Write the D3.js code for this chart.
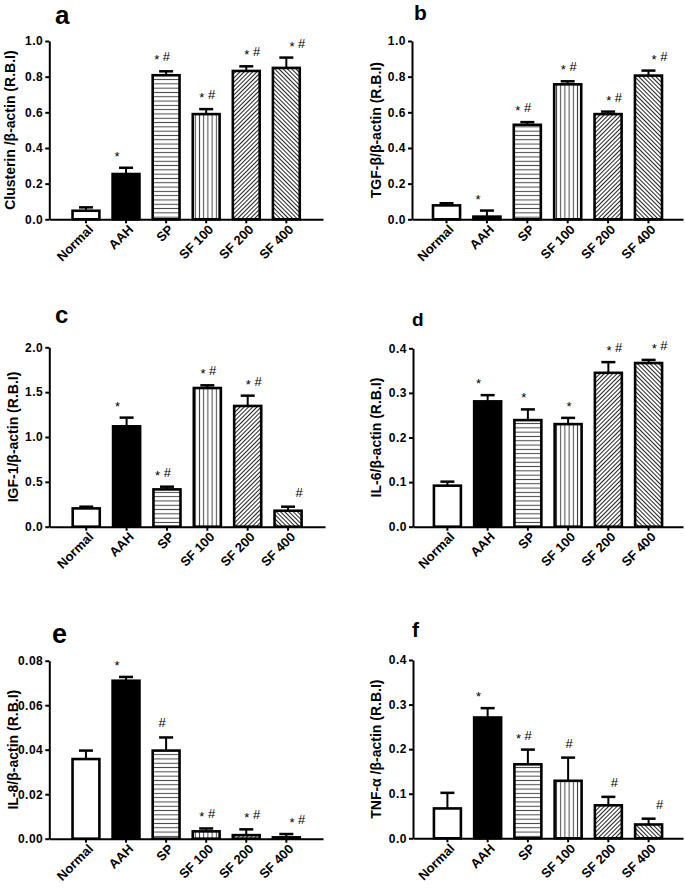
<!DOCTYPE html>
<html>
<head>
<meta charset="utf-8">
<script src="https://cdn.jsdelivr.net/npm/d3@7"></script>
<style>
body { margin: 0; background: #fff; }
text { font-family: "Liberation Sans", Arial, sans-serif; }
</style>
</head>
<body>
<div id="chart"></div>
<script>
// groups shared by every panel
const groups = ["Normal", "AAH", "SP", "SF 100", "SF 200", "SF 400"]

// a - Clusterin
const clusterinMean = [0.048, 0.254, 0.808, 0.590, 0.832, 0.849]
const clusterinErr = [0.019, 0.035, 0.022, 0.028, 0.026, 0.058]
const clusterinSig = ["", "*", "*#", "*#", "*#", "*#"]
// b - TGF-beta
const tgfMean = [0.078, 0.015, 0.530, 0.757, 0.590, 0.806]
const tgfErr = [0.012, 0.034, 0.015, 0.017, 0.014, 0.028]
const tgfSig = ["", "*", "*#", "*#", "*#", "*#"]
// c - IGF-1
const igfMean = [0.204, 1.119, 0.416, 1.546, 1.346, 0.178]
const igfErr = [0.019, 0.097, 0.030, 0.030, 0.115, 0.045]
const igfSig = ["", "*", "*#", "*#", "*#", "#"]
// d - IL-6
const il6Mean = [0.092, 0.281, 0.239, 0.230, 0.345, 0.367]
const il6Err = [0.009, 0.014, 0.024, 0.014, 0.024, 0.007]
const il6Sig = ["", "*", "*", "*", "*#", "*#"]
// e - IL-8
const il8Mean = [0.0358, 0.0710, 0.0396, 0.0033, 0.0016, 0.0006]
const il8Err = [0.0038, 0.0017, 0.0059, 0.0013, 0.0026, 0.0015]
const il8Sig = ["", "*", "#", "*#", "*#", "*#"]
// f - TNF-alpha
const tnfMean = [0.067, 0.271, 0.166, 0.129, 0.074, 0.031]
const tnfErr = [0.035, 0.021, 0.033, 0.052, 0.019, 0.013]
const tnfSig = ["", "*", "*#", "#", "#", "#"]

// y tick values
const ticks10 = [0, 0.2, 0.4, 0.6, 0.8, 1.0]
const ticks20 = [0, 0.5, 1.0, 1.5, 2.0]
const ticks04 = [0, 0.1, 0.2, 0.3, 0.4]
const ticks008 = [0, 0.02, 0.04, 0.06, 0.08]

const fills = ["#fff", "#000", "url(#hlines)", "url(#vlines)", "url(#diagR)", "url(#diagL)"]

const panels = [
    { letter: "a", size: 26, lx: 55, ly: 24, label: "Clusterin /β-actin (R.B.I)", labX: 15,
      x0: 49.3, x1: 323, top: 41, bottom: 219.3, max: 1.0, ticks: ticks10, fmt: ".1f", po: 0.58,
      mean: clusterinMean, err: clusterinErr, sig: clusterinSig },
    { letter: "b", size: 21, lx: 414, ly: 20, label: "TGF-β/β-actin (R.B.I)", labX: 381,
      x0: 412, x1: 683, top: 41, bottom: 219.3, max: 1.0, ticks: ticks10, fmt: ".1f", po: 0.52,
      mean: tgfMean, err: tgfErr, sig: tgfSig },
    { letter: "c", size: 24, lx: 55, ly: 323, label: "IGF-1/β-actin (R.B.I)", labX: 18,
      x0: 49.3, x1: 325, top: 347.3, bottom: 526.7, max: 2.0, ticks: ticks20, fmt: ".1f", po: 0.58,
      mean: igfMean, err: igfErr, sig: igfSig },
    { letter: "d", size: 19, lx: 412, ly: 326, label: "IL-6/β-actin (R.B.I)", labX: 381,
      x0: 413, x1: 683, top: 348.3, bottom: 526.7, max: 0.4, ticks: ticks04, fmt: ".1f", po: 0.52,
      mean: il6Mean, err: il6Err, sig: il6Sig },
    { letter: "e", size: 27, lx: 52, ly: 643, label: "IL-8/β-actin (R.B.I)", labX: 17.5,
      x0: 49.3, x1: 323, top: 660.7, bottom: 838.7, max: 0.08, ticks: ticks008, fmt: ".2f", po: 0.58,
      mean: il8Mean, err: il8Err, sig: il8Sig },
    { letter: "f", size: 21, lx: 412, ly: 637, label: "TNF-α /β-actin (R.B.I)", labX: 381,
      x0: 413, x1: 683, top: 660, bottom: 838.3, max: 0.4, ticks: ticks04, fmt: ".1f", po: 0.52,
      mean: tnfMean, err: tnfErr, sig: tnfSig }
]

const svg = d3.select('#chart')
    .append('svg')
    .attr('width', 685)
    .attr('height', 889)

// hatch patterns
const defs = svg.append('defs')
const addPattern = (id, size, angle, color, sw) => {
    const p = defs.append('pattern')
        .attr('id', id)
        .attr('patternUnits', 'userSpaceOnUse')
        .attr('width', size)
        .attr('height', size)
        .attr('patternTransform', `rotate(${angle})`)
    p.append('rect').attr('width', size).attr('height', size).attr('fill', '#fff')
    p.append('line')
        .attr('x1', size / 2).attr('x2', size / 2)
        .attr('y1', 0).attr('y2', size)
        .attr('stroke', color)
        .attr('stroke-width', sw)
}
addPattern('hlines', 4.3, 90, '#444', 1)
addPattern('vlines', 4.2, 0, '#444', 1)
addPattern('diagR', 3, 45, '#222', 1)
addPattern('diagL', 3, -45, '#222', 1)

panels.forEach(p => {
    const g = svg.append('g')

    const x = d3.scaleBand()
        .domain(groups)
        .range([p.x0, p.x1])
        .paddingInner(0.33)
        .paddingOuter(p.po)

    const y = d3.scaleLinear()
        .domain([0, p.max])
        .range([p.bottom, p.top])

    const rows = groups.map((name, i) => ({
        name: name, mean: p.mean[i], err: p.err[i], sig: p.sig[i], fill: fills[i], i: i
    }))

    // bars
    g.selectAll('rect.bar')
        .data(rows)
        .enter()
        .append('rect')
        .attr('class', 'bar')
        .attr('x', d => x(d.name))
        .attr('width', x.bandwidth())
        .attr('y', d => y(d.mean))
        .attr('height', d => y(0) - y(d.mean))
        .attr('fill', d => d.fill)
        .attr('stroke', '#000')
        .attr('stroke-width', 2.6)

    // error bars (upper only)
    const cx = d => x(d.name) + x.bandwidth() / 2
    g.selectAll('line.err')
        .data(rows)
        .enter()
        .append('line')
        .attr('x1', cx).attr('x2', cx)
        .attr('y1', d => y(d.mean))
        .attr('y2', d => y(d.mean + d.err))
        .attr('stroke', '#000')
        .attr('stroke-width', 2)
    g.selectAll('line.cap')
        .data(rows)
        .enter()
        .append('line')
        .attr('x1', d => cx(d) - 7).attr('x2', d => cx(d) + 7)
        .attr('y1', d => y(d.mean + d.err))
        .attr('y2', d => y(d.mean + d.err))
        .attr('stroke', '#000')
        .attr('stroke-width', 2.5)

    // significance marks
    const marks = g.selectAll('text.sig')
        .data(rows.filter(d => d.sig))
        .enter()
        .append('text')
        .attr('text-anchor', 'middle')
        .attr('x', d => cx(d) - 14 + 5 * d.i)
        .attr('y', d => y(d.mean + d.err) - 10)
        .style('font-size', '13px')
        .style('fill', '#000')
    marks.each(function (d) {
        const t = d3.select(this)
        if (d.sig.includes('*')) {
            t.append('tspan').attr('dy', 3).text('*')
            if (d.sig.includes('#')) t.append('tspan').attr('dy', -3).text(' #')
        } else {
            t.append('tspan').text('#')
        }
    })

    // axes
    const yAxis = d3.axisLeft(y)
        .tickValues(p.ticks)
        .tickFormat(d3.format(p.fmt))
        .tickSize(4)
        .tickSizeOuter(0)
        .tickPadding(2)
    const ya = g.append('g')
        .attr('transform', `translate(${p.x0},0)`)
        .call(yAxis)

    const xAxis = d3.axisBottom(x)
        .tickSize(4)
        .tickSizeOuter(0)
    const xa = g.append('g')
        .attr('transform', `translate(0,${p.bottom})`)
        .call(xAxis)

    ;[ya, xa].forEach(a => {
        a.select('.domain').attr('stroke', '#000').attr('stroke-width', 2)
        a.selectAll('.tick line').attr('stroke', '#000').attr('stroke-width', 2)
        a.selectAll('text')
            .style('font-family', '"Liberation Sans", Arial, sans-serif')
            .style('font-weight', 'bold')
            .attr('fill', '#000')
    })
    ya.selectAll('text')
        .style('font-size', '12px')
        .style('letter-spacing', '0.5px')

    xa.selectAll('.tick text')
        .style('font-size', '13px')
        .attr('text-anchor', 'end')
        .attr('x', 0).attr('y', 0).attr('dy', 0)
        .attr('transform', 'translate(8,11) rotate(-45)')

    // y-axis title
    g.append('text')
        .attr('transform', `translate(${p.labX},${(p.top + p.bottom) / 2}) rotate(-90)`)
        .attr('text-anchor', 'middle')
        .style('font-size', '14px')
        .style('font-weight', 'bold')
        .text(p.label)

    // panel letter
    g.append('text')
        .attr('x', p.lx)
        .attr('y', p.ly)
        .style('font-size', p.size + 'px')
        .style('font-weight', 'bold')
        .text(p.letter)
})
</script>
</body>
</html>
